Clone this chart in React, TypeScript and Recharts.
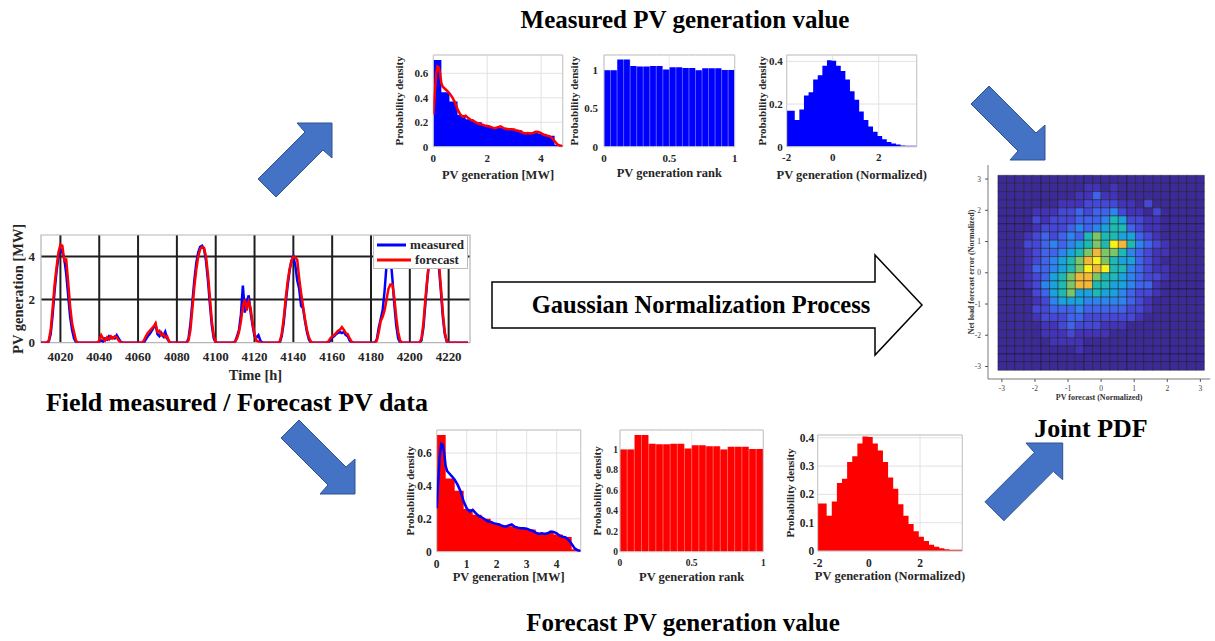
import React from "react";
import {
  ComposedChart,
  LineChart,
  ScatterChart,
  Line,
  Area,
  Scatter,
  XAxis,
  YAxis,
  CartesianGrid,
  ReferenceArea,
  ReferenceLine,
  Legend,
  Label,
} from "recharts";

const FONT = '"Liberation Serif", "Times New Roman", serif';
const INK = "#262626";

// ---- field data: hourly PV generation [MW], starting at 4010 h ----
const startHour = 4010;
const timeTicks = [4020, 4040, 4060, 4080, 4100, 4120, 4140, 4160, 4180, 4200, 4220];
const seriesOrder = ["measured", "forecast"];
const measuredMW = [
  0, 0, 0, 0, 0.05, 0.4, 1.3, 2.4, 3.3, 4.0, // 4010
  4.35, 4.2, 3.9, 3.2, 2.2, 1.2, 0.6, 0.2, 0.02, 0, // 4020
  0, 0, 0, 0, 0, 0, 0, 0, 0, 0, // 4030
  0.05, 0.1, 0.05, 0.2, 0.15, 0.3, 0.2, 0.25, 0.2, 0.35, // 4040
  0.2, 0.05, 0, 0, 0, 0, 0, 0, 0, 0, // 4050
  0, 0, 0, 0, 0.15, 0.3, 0.4, 0.55, 0.7, 0.85, // 4060
  0.4, 0.3, 0.45, 0.3, 0.5, 0.2, 0.05, 0, 0, 0, // 4070
  0, 0, 0, 0, 0, 0, 0.2, 0.9, 1.9, 2.9, // 4080
  3.7, 4.2, 4.45, 4.5, 4.35, 3.8, 2.9, 1.8, 0.8, 0.2, // 4090
  0, 0, 0, 0, 0, 0, 0, 0, 0, 0, // 4100
  0.05, 0.3, 0.6, 1.3, 2.65, 1.4, 1.9, 2.2, 1.4, 0.8, // 4110
  0.3, 0.25, 0.35, 0.1, 0, 0, 0, 0, 0, 0, // 4120
  0, 0, 0, 0, 0.3, 0.9, 1.8, 2.6, 3.3, 3.8, // 4130
  4.0, 3.6, 2.9, 2.5, 1.7, 1.6, 1.0, 0.5, 0.15, 0, // 4140
  0, 0, 0, 0, 0, 0, 0, 0, 0, 0.1, // 4150
  0.25, 0.3, 0.4, 0.45, 0.5, 0.45, 0.5, 0.35, 0.3, 0.1, // 4160
  0, 0, 0, 0, 0, 0, 0, 0, 0, 0, // 4170
  0, 0, 0, 0.15, 0.7, 1.1, 1.5, 2.4, 3.6, 4.3, // 4180
  4.0, 3.0, 1.8, 0.8, 0.2, 0, 0, 0, 0, 0, // 4190
  0, 0, 0, 0, 0, 0, 0.1, 0.7, 1.8, 2.9, // 4200
  3.8, 4.3, 4.6, 4.6, 4.2, 3.5, 2.4, 1.2, 0.4, 0.05, // 4210
  0, 0, 0, 0, 0, 0, 0, 0, 0, 0, // 4220
  0,
];
const forecastMW = [
  0, 0, 0, 0, 0.1, 0.6, 1.6, 2.7, 3.5, 4.2, // 4010
  4.55, 4.5, 3.8, 3.85, 2.8, 1.7, 0.9, 0.5, 0.1, 0, // 4020
  0, 0, 0, 0, 0, 0, 0, 0, 0, 0, // 4030
  0.1, 0.35, 0.2, 0.1, 0.25, 0.15, 0.3, 0.2, 0.3, 0.25, // 4040
  0.1, 0.02, 0, 0, 0, 0, 0, 0, 0, 0, // 4050
  0, 0, 0, 0.1, 0.3, 0.45, 0.55, 0.65, 0.75, 0.9, // 4060
  0.5, 0.55, 0.35, 0.4, 0.25, 0.3, 0.05, 0, 0, 0, // 4070
  0, 0, 0, 0, 0, 0, 0.1, 0.6, 1.6, 2.6, // 4080
  3.4, 4.0, 4.35, 4.45, 4.4, 4.0, 3.2, 2.1, 1.0, 0.3, // 4090
  0.03, 0, 0, 0, 0, 0, 0, 0, 0, 0, // 4100
  0.05, 0.2, 0.5, 1.0, 1.7, 2.0, 1.5, 1.9, 1.6, 0.9, // 4110
  0.4, 0.1, 0.05, 0, 0, 0, 0, 0, 0, 0, // 4120
  0, 0, 0, 0.05, 0.4, 1.1, 2.0, 2.8, 3.4, 3.8, // 4130
  4.0, 3.95, 3.85, 3.0, 2.3, 1.7, 1.1, 0.6, 0.25, 0.05, // 4140
  0, 0, 0, 0, 0, 0, 0, 0, 0.05, 0.2, // 4150
  0.3, 0.35, 0.45, 0.55, 0.6, 0.72, 0.6, 0.45, 0.4, 0.2, // 4160
  0.05, 0, 0, 0, 0, 0, 0, 0, 0, 0, // 4170
  0, 0, 0, 0.1, 0.5, 1.0, 1.2, 1.5, 2.0, 2.5, // 4180
  2.7, 2.7, 2.1, 1.2, 0.5, 0.1, 0, 0, 0, 0, // 4190
  0, 0, 0, 0, 0, 0, 0.2, 0.9, 2.0, 3.0, // 4200
  3.8, 4.4, 4.7, 4.6, 4.3, 3.7, 2.6, 1.4, 0.5, 0.1, // 4210
  0, 0, 0, 0, 0, 0, 0, 0, 0, 0, // 4220
  0,
];

// ---- pdf of PV generation [MW] ----
const pvBinEdges = [0, 0.3, 0.6, 0.9, 1.2, 1.5, 1.8, 2.1, 2.4, 2.7, 3.0, 3.3, 3.6, 3.9, 4.2, 4.5, 4.8];
const measuredPvPdf = [0.71, 0.445, 0.37, 0.26, 0.225, 0.2, 0.175, 0.16, 0.155, 0.14, 0.135, 0.115, 0.115, 0.105, 0.09, 0.015];
const forecastPvPdf = [0.71, 0.445, 0.37, 0.26, 0.225, 0.2, 0.175, 0.16, 0.155, 0.14, 0.135, 0.115, 0.115, 0.105, 0.09, 0.015];
const kdeMW = [
  0, 0.05, 0.1, 0.15, 0.2, 0.25, 0.3, 0.35, 0.4, 0.5, 0.6, 0.7, 0.8, 0.9, 1.0, 1.1, 1.2, 1.3, 1.4, 1.5,
  1.6, 1.7, 1.8, 1.9, 2.0, 2.1, 2.2, 2.3, 2.4, 2.5, 2.6, 2.7, 2.8, 2.9, 3.0, 3.1, 3.2, 3.3, 3.4, 3.5,
  3.6, 3.7, 3.8, 3.9, 4.0, 4.1, 4.2, 4.3, 4.4, 4.5, 4.6, 4.7, 4.8,
];
const forecastKde = [
  0.264, 0.42, 0.58, 0.656, 0.65, 0.6, 0.52, 0.49, 0.48, 0.46, 0.437, 0.406, 0.365, 0.305, 0.264, 0.244, 0.254, 0.234, 0.217, 0.209,
  0.197, 0.185, 0.181, 0.173, 0.169, 0.164, 0.156, 0.152, 0.16, 0.166, 0.152, 0.146, 0.142, 0.142, 0.14, 0.132, 0.126, 0.116, 0.108, 0.112,
  0.108, 0.112, 0.122, 0.12, 0.112, 0.097, 0.091, 0.087, 0.071, 0.047, 0.02, 0.008, 0.002,
];
const measuredKde = [
  0.264, 0.42, 0.58, 0.656, 0.65, 0.6, 0.52, 0.49, 0.48, 0.46, 0.437, 0.406, 0.365, 0.305, 0.264, 0.244, 0.254, 0.234, 0.217, 0.209,
  0.197, 0.185, 0.181, 0.173, 0.169, 0.164, 0.156, 0.152, 0.16, 0.166, 0.152, 0.146, 0.142, 0.142, 0.14, 0.132, 0.126, 0.116, 0.108, 0.112,
  0.108, 0.112, 0.122, 0.12, 0.112, 0.097, 0.091, 0.087, 0.071, 0.047, 0.02, 0.008, 0.002,
];

// ---- pdf of PV generation rank ----
const rankBinEdges = [0, 0.05, 0.1, 0.15, 0.2, 0.25, 0.3, 0.35, 0.4, 0.45, 0.5, 0.55, 0.6, 0.65, 0.7, 0.75, 0.8, 0.85, 0.9, 0.95, 1];
const measuredRankPdf = [1.0, 1.0, 1.14, 1.14, 1.055, 1.05, 1.05, 1.055, 1.055, 1.01, 1.04, 1.04, 1.03, 1.03, 1.0, 1.025, 1.025, 1.025, 1.005, 1.005];
const forecastRankPdf = [1.0, 1.0, 1.14, 1.14, 1.055, 1.05, 1.05, 1.055, 1.055, 1.01, 1.04, 1.04, 1.03, 1.03, 1.0, 1.025, 1.025, 1.025, 1.005, 1.005];

// ---- pdf of normalized PV generation ----
const normBinEdges = [
  -2, -1.65, -1.45, -1.25, -1.05, -0.85, -0.65, -0.45, -0.25, -0.05, 0.15, 0.35, 0.55, 0.75, 0.95,
  1.15, 1.35, 1.55, 1.75, 1.95, 2.15, 2.35, 2.55, 2.75, 2.95, 3.15, 3.35, 3.55, 3.65,
];
const measuredNormPdf = [
  0.168, 0.125, 0.175, 0.24, 0.255, 0.315, 0.335, 0.38, 0.405, 0.403, 0.38, 0.355, 0.315, 0.26,
  0.22, 0.165, 0.125, 0.095, 0.07, 0.05, 0.035, 0.022, 0.015, 0.01, 0.006, 0.004, 0.004, 0.004,
];
const forecastNormPdf = [
  0.168, 0.125, 0.175, 0.24, 0.255, 0.315, 0.335, 0.38, 0.405, 0.403, 0.38, 0.355, 0.315, 0.26,
  0.22, 0.165, 0.125, 0.095, 0.07, 0.05, 0.035, 0.022, 0.015, 0.01, 0.006, 0.004, 0.004, 0.004,
];

// ---- joint pdf (colour level 0..9), rows from y = +3 down to y = -3 ----
const jointEdges = [
  -3.12, -2.86, -2.6, -2.34, -2.08, -1.82, -1.56, -1.3, -1.04, -0.78, -0.52, -0.26, 0,
  0.26, 0.52, 0.78, 1.04, 1.3, 1.56, 1.82, 2.08, 2.34, 2.6, 2.86, 3.12,
];
const jointLevel = [
  [0, 0, 0, 0, 0, 0, 0, 0, 0, 0, 0, 0, 0, 0, 0, 0, 0, 0, 0, 0, 0, 0, 0, 0],
  [0, 0, 0, 0, 0, 0, 0, 0, 0, 0, 1, 1, 0, 1, 0, 0, 0, 0, 0, 0, 0, 0, 0, 0],
  [0, 0, 0, 0, 0, 0, 0, 0, 0, 1, 1, 3, 1, 1, 0, 0, 0, 0, 0, 0, 0, 0, 0, 0],
  [0, 0, 0, 0, 0, 0, 0, 1, 1, 1, 2, 2, 2, 2, 1, 1, 0, 2, 0, 0, 0, 0, 0, 0],
  [0, 0, 0, 0, 1, 1, 1, 2, 2, 3, 2, 3, 3, 4, 2, 1, 1, 0, 2, 0, 0, 0, 0, 0],
  [0, 0, 0, 0, 2, 1, 2, 2, 2, 3, 3, 3, 4, 6, 5, 2, 2, 1, 1, 0, 0, 0, 0, 0],
  [0, 0, 0, 0, 1, 2, 2, 2, 3, 4, 3, 4, 5, 6, 6, 3, 2, 1, 1, 0, 0, 0, 0, 0],
  [0, 0, 0, 1, 2, 3, 2, 3, 4, 3, 6, 7, 6, 6, 5, 5, 3, 2, 1, 0, 0, 0, 0, 0],
  [0, 0, 0, 2, 2, 3, 4, 3, 4, 5, 6, 7, 6, 9, 8, 6, 4, 3, 2, 1, 0, 0, 0, 0],
  [0, 0, 0, 1, 2, 3, 3, 4, 5, 6, 7, 8, 7, 7, 6, 4, 3, 2, 1, 1, 0, 0, 0, 0],
  [0, 0, 0, 1, 2, 3, 4, 5, 6, 7, 8, 9, 7, 6, 5, 5, 3, 2, 1, 0, 0, 0, 0, 0],
  [0, 0, 0, 1, 3, 3, 4, 5, 6, 7, 9, 8, 9, 6, 6, 4, 3, 2, 1, 1, 0, 0, 0, 0],
  [0, 0, 0, 1, 2, 3, 5, 6, 7, 8, 8, 7, 6, 6, 5, 4, 3, 2, 2, 1, 0, 0, 0, 0],
  [0, 0, 0, 1, 2, 4, 5, 6, 7, 8, 8, 6, 6, 5, 5, 4, 3, 3, 1, 0, 0, 0, 0, 0],
  [0, 0, 0, 0, 2, 3, 5, 6, 7, 5, 5, 6, 5, 5, 4, 3, 2, 2, 1, 0, 0, 0, 0, 0],
  [0, 0, 0, 0, 1, 2, 4, 5, 5, 5, 4, 4, 4, 4, 4, 3, 2, 1, 0, 0, 0, 0, 0, 0],
  [0, 0, 0, 0, 2, 2, 3, 3, 3, 4, 3, 3, 3, 3, 3, 2, 2, 1, 0, 0, 0, 0, 0, 0],
  [0, 0, 0, 0, 1, 2, 2, 2, 3, 3, 2, 2, 2, 2, 2, 2, 1, 0, 0, 0, 0, 0, 0, 0],
  [0, 0, 0, 0, 0, 1, 1, 2, 3, 2, 2, 2, 1, 1, 1, 0, 0, 0, 0, 0, 0, 0, 0, 0],
  [0, 0, 0, 0, 0, 1, 1, 1, 2, 1, 1, 1, 1, 0, 0, 0, 0, 0, 0, 0, 0, 0, 0, 0],
  [0, 0, 0, 0, 0, 0, 1, 1, 1, 1, 0, 0, 0, 0, 0, 0, 0, 0, 0, 0, 0, 0, 0, 0],
  [0, 0, 0, 0, 0, 0, 0, 0, 0, 1, 0, 0, 0, 0, 0, 0, 0, 0, 0, 0, 0, 0, 0, 0],
  [0, 0, 0, 0, 0, 0, 0, 0, 0, 0, 0, 0, 0, 0, 0, 0, 0, 0, 0, 0, 0, 0, 0, 0],
  [0, 0, 0, 0, 0, 0, 0, 0, 0, 0, 0, 0, 0, 0, 0, 0, 0, 0, 0, 0, 0, 0, 0, 0],
];
const parula = ["#3b2a98", "#4233b8", "#4547d6", "#3f63ec", "#2f83ef", "#1aa2dc", "#1fb8b4", "#7cc66a", "#f2b83c", "#f8f11c"];

type Plot = { x0: number; y0: number; x1: number; y1: number };

// spare room around each plot so rotated / long labels are not clipped
const PAD = { top: 24, right: 24, bottom: 6, left: 10 };

const tickStyle = (fs: number) => ({ fontSize: fs, fontWeight: 700, fill: INK, fontFamily: FONT });

function TsLegend({ payload }: any) {
  const items = [...(payload || [])].sort((a: any, b: any) => seriesOrder.indexOf(a.value) - seriesOrder.indexOf(b.value));
  return (
    <div style={{ background: "#fff", border: "1px solid #bdbdbd", padding: "1px 3px", fontFamily: FONT, fontWeight: 700, fontSize: 13, color: INK }}>
      {items.map((p: any) => (
        <div key={p.value} style={{ display: "flex", alignItems: "center", height: 15 }}>
          <svg width={34} height={6}>
            <line x1={0} y1={3} x2={34} y2={3} stroke={p.color} strokeWidth={3} />
          </svg>
          <span style={{ marginLeft: 4 }}>{p.value}</span>
        </div>
      ))}
    </div>
  );
}

function TimeSeries() {
  const plot: Plot = { x0: 41, y0: 235, x1: 470, y1: 342.7 };
  const yLabelX = 18;
  const base = 375 + 0.33 * 14.5;
  const left = yLabelX - PAD.left;
  const top = plot.y0 - PAD.top;
  const data = measuredMW.map((m, i) => ({ h: startHour + i, measured: m, forecast: forecastMW[i] }));
  return (
    <div style={{ position: "absolute", left, top }}>
      <LineChart width={plot.x1 + 6 - left} height={base + PAD.bottom - top} data={data}
        margin={{ top: PAD.top, right: 6, bottom: PAD.bottom, left: PAD.left }}>
        <CartesianGrid stroke="#1f1f1f" strokeWidth={2} verticalValues={timeTicks} horizontalValues={[2, 4]} />
        <ReferenceArea x1={4010} x2={4231} y1={0} y2={5} fill="none" stroke="#b5b5b5" strokeWidth={1.2} />
        <XAxis type="number" dataKey="h" domain={[4010, 4231]} ticks={timeTicks} interval={0} allowDataOverflow
          tickLine={false} axisLine={false} tickSize={0} tickMargin={9} height={base - plot.y1} tick={tickStyle(13)}>
          <Label value="Time [h]" position="insideBottom" offset={0} style={{ fontFamily: FONT, fontWeight: 700, fontSize: 14.5, fill: INK }} />
        </XAxis>
        <YAxis type="number" domain={[0, 5]} ticks={[0, 2, 4]} allowDataOverflow tickLine={false} axisLine={false}
          tickSize={0} tickMargin={6} width={plot.x0 - yLabelX} tick={tickStyle(13)}>
          <Label value="PV generation [MW]" angle={-90} position="insideLeft" offset={0}
            style={{ textAnchor: "middle", fontFamily: FONT, fontWeight: 700, fontSize: 14.5, fill: INK }} />
        </YAxis>
        <Line name="measured" dataKey="measured" stroke="#0000ff" strokeWidth={2.5} dot={false} activeDot={false} isAnimationActive={false} />
        <Line name="forecast" dataKey="forecast" stroke="#ff0000" strokeWidth={2.5} dot={false} activeDot={false} isAnimationActive={false} />
        <Legend layout="vertical" align="center" verticalAlign="middle" content={<TsLegend />}
          wrapperStyle={{ left: 373 - left, top: 235 - top, width: 95, height: 32 }} />
      </LineChart>
    </div>
  );
}

type PanelProps = {
  plot: Plot;
  yLabelX: number;
  xLabelY: number;
  xDomain: [number, number];
  yDomain: [number, number];
  xTicks: number[];
  yTicks: number[];
  edges: number[];
  heights: number[];
  fill: string;
  curveX?: number[];
  curveY?: number[];
  curveColor?: string;
  separators?: boolean;
  xLabel: string;
  tickFs: number;
  xTickGap: number;
  yTickGap: number;
};

function HistPanel(p: PanelProps) {
  const labelFs = 12.5;
  const base = p.xLabelY + 0.33 * labelFs;
  const left = p.yLabelX - PAD.left;
  const top = p.plot.y0 - PAD.top;
  const steps = p.edges.map((e, i) => ({ x: e, y: p.heights[Math.min(i, p.heights.length - 1)] }));
  const curve = p.curveX ? p.curveX.map((x, i) => ({ x, y: p.curveY![i] })) : null;
  return (
    <div style={{ position: "absolute", left, top }}>
      <ComposedChart width={p.plot.x1 + PAD.right - left} height={base + PAD.bottom - top} margin={PAD}>
        <CartesianGrid stroke="#e2e2e2" strokeWidth={1} />
        <XAxis type="number" dataKey="x" domain={p.xDomain} ticks={p.xTicks} interval={0} allowDataOverflow
          tickLine={false} axisLine={false} tickSize={0} tickMargin={p.xTickGap} height={base - p.plot.y1} tick={tickStyle(p.tickFs)}>
          <Label value={p.xLabel} position="insideBottom" offset={0} style={{ fontFamily: FONT, fontWeight: 700, fontSize: labelFs, fill: INK }} />
        </XAxis>
        <YAxis type="number" domain={p.yDomain} ticks={p.yTicks} interval={0} allowDataOverflow tickLine={false} axisLine={false}
          tickSize={0} tickMargin={p.yTickGap} width={p.plot.x0 - p.yLabelX} tick={tickStyle(p.tickFs)}>
          <Label value="Probability density" angle={-90} position="insideLeft" offset={0}
            style={{ textAnchor: "middle", fontFamily: FONT, fontWeight: 700, fontSize: 11, fill: INK }} />
        </YAxis>
        <Area data={steps} dataKey="y" type="stepAfter" fill={p.fill} fillOpacity={1} stroke="none"
          dot={false} activeDot={false} isAnimationActive={false} />
        {p.separators &&
          p.edges.slice(1, -1).map((e) => (
            <ReferenceLine key={e} x={e} stroke="#ffffff" strokeOpacity={0.45} strokeWidth={0.8} />
          ))}
        {curve && (
          <Line data={curve} dataKey="y" type="linear" stroke={p.curveColor} strokeWidth={2.5}
            dot={false} activeDot={false} isAnimationActive={false} />
        )}
        <ReferenceArea x1={p.xDomain[0]} x2={p.xDomain[1]} y1={p.yDomain[0]} y2={p.yDomain[1]} fill="none" stroke="#c6c6c6" strokeWidth={1} />
      </ComposedChart>
    </div>
  );
}

const EmptyShape = () => <g />;

function JointPdf() {
  const plot: Plot = { x0: 987.7, y0: 165, x1: 1210, y1: 379 };
  const yLabelX = 970.7;
  const base = 397.3 + 0.33 * 8;
  const left = yLabelX - 10;
  const top = plot.y0 - 6;
  const centers = jointLevel.flatMap((row, j) =>
    row.map((_, i) => ({ x: (jointEdges[i] + jointEdges[i + 1]) / 2, y: (jointEdges[23 - j] + jointEdges[24 - j]) / 2 }))
  );
  const axisTick = { fontSize: 7.5, fill: "#444", fontFamily: FONT };
  const ticks = [-3, -2, -1, 0, 1, 2, 3];
  return (
    <div style={{ position: "absolute", left, top }}>
      <ScatterChart width={plot.x1 + 4 - left} height={base + 6 - top} margin={{ top: 6, right: 4, bottom: 6, left: 10 }}>
        <XAxis type="number" dataKey="x" domain={[-3.42, 3.3]} ticks={ticks} interval={0} allowDataOverflow
          tickLine={{ stroke: "#555" }} axisLine={{ stroke: "#555", strokeWidth: 0.8 }} tickSize={3} tickMargin={3.5}
          height={base - plot.y1} tick={axisTick}>
          <Label value="PV forecast (Normalized)" position="insideBottom" offset={0}
            style={{ fontFamily: FONT, fontWeight: 700, fontSize: 8, fill: "#333" }} />
        </XAxis>
        <YAxis type="number" dataKey="y" domain={[-3.4, 3.45]} ticks={ticks} interval={0} allowDataOverflow
          tickLine={{ stroke: "#555" }} axisLine={{ stroke: "#555", strokeWidth: 0.8 }} tickSize={3} tickMargin={4}
          width={plot.x0 - yLabelX} tick={axisTick}>
          <Label value="Net load forecast error (Normalized)" angle={-90} position="insideLeft" offset={0}
            style={{ textAnchor: "middle", fontFamily: FONT, fontWeight: 700, fontSize: 8, fill: "#333" }} />
        </YAxis>
        {jointLevel.map((row, j) =>
          row.map((lv, i) => (
            <ReferenceArea key={`${i}-${j}`} x1={jointEdges[i]} x2={jointEdges[i + 1]} y1={jointEdges[23 - j]} y2={jointEdges[24 - j]}
              fill={parula[lv]} fillOpacity={1} stroke="#111" strokeOpacity={0.75} strokeWidth={0.6} />
          ))
        )}
        <Scatter data={centers} shape={EmptyShape} isAnimationActive={false} />
      </ScatterChart>
    </div>
  );
}

// block arrow pointing up-right inside a 74 x 74 box
const arrowShape = [[0, 56], [47, 9], [39, 0], [74, 0], [74, 35], [65, 27], [18, 74]];

function BlueArrow({ x, y, s, down }: { x: number; y: number; s: number; down?: boolean }) {
  const pts = arrowShape.map(([ax, ay]) => `${x + ax * s},${y + (down ? 74 - ay : ay) * s}`).join(" ");
  return <polygon points={pts} fill="#4472c4" stroke="#2f528f" strokeWidth={1} />;
}

function Overlay() {
  const title = { fontFamily: FONT, fontWeight: 700, fill: "#000" } as const;
  return (
    <svg width={1215} height={641} style={{ position: "absolute", left: 0, top: 0 }}>
      <BlueArrow x={258} y={123} s={1} />
      <BlueArrow x={971} y={86} s={1} down />
      <BlueArrow x={281} y={420} s={1} down />
      <BlueArrow x={985} y={443} s={1.05} />
      <polygon points="492,282 875,282 875,255 922,305 875,355 875,328 492,328" fill="#fff" stroke="#000" strokeWidth={1.5} />
      <text x={701} y={313} textAnchor="middle" fontSize={24.5} style={title}>Gaussian Normalization Process</text>
      <text x={685} y={28} textAnchor="middle" fontSize={25} style={title}>Measured PV generation value</text>
      <text x={683} y={631} textAnchor="middle" fontSize={25} style={title}>Forecast PV generation value</text>
      <text x={237} y={411} textAnchor="middle" fontSize={26} style={title}>Field measured / Forecast PV data</text>
      <text x={1091} y={437} textAnchor="middle" fontSize={26} style={title}>Joint PDF</text>
    </svg>
  );
}

export default function App() {
  return (
    <div style={{ position: "absolute", left: 0, top: 0, width: 1215, height: 641, background: "#fff", overflow: "hidden" }}>
      <Overlay />
      <TimeSeries />
      <HistPanel plot={{ x0: 433.3, y0: 55, x1: 562.7, y1: 146.7 }} yLabelX={399} xLabelY={175}
        xDomain={[0, 4.8]} yDomain={[0, 0.75]} xTicks={[0, 2, 4]} yTicks={[0, 0.2, 0.4, 0.6]}
        edges={pvBinEdges} heights={measuredPvPdf} fill="#0000ff" curveX={kdeMW} curveY={forecastKde} curveColor="#ff0000"
        xLabel="PV generation [MW]" tickFs={11} xTickGap={7.5} yTickGap={5} />
      <HistPanel plot={{ x0: 604.3, y0: 55, x1: 735, y1: 146.7 }} yLabelX={574.3} xLabelY={173.3}
        xDomain={[0, 1]} yDomain={[0, 1.2]} xTicks={[0, 0.5, 1]} yTicks={[0, 0.5, 1]}
        edges={rankBinEdges} heights={measuredRankPdf} fill="#0000ff" separators
        xLabel="PV generation rank" tickFs={11} xTickGap={7.5} yTickGap={6} />
      <HistPanel plot={{ x0: 786.7, y0: 55, x1: 916.7, y1: 146.7 }} yLabelX={762} xLabelY={175}
        xDomain={[-2, 3.65]} yDomain={[0, 0.43]} xTicks={[-2, 0, 2]} yTicks={[0, 0.2, 0.4]}
        edges={normBinEdges} heights={measuredNormPdf} fill="#0000ff"
        xLabel="PV generation (Normalized)" tickFs={11} xTickGap={6.5} yTickGap={4} />
      <HistPanel plot={{ x0: 436.7, y0: 430, x1: 580.7, y1: 551.7 }} yLabelX={410} xLabelY={576.7}
        xDomain={[0, 4.8]} yDomain={[0, 0.74]} xTicks={[0, 1, 2, 3, 4]} yTicks={[0, 0.2, 0.4, 0.6]}
        edges={pvBinEdges} heights={forecastPvPdf} fill="#ff0000" curveX={kdeMW} curveY={measuredKde} curveColor="#0000ff"
        xLabel="PV generation [MW]" tickFs={11.5} xTickGap={8} yTickGap={5} />
      <HistPanel plot={{ x0: 620, y0: 430, x1: 763.3, y1: 551.7 }} yLabelX={597} xLabelY={576.7}
        xDomain={[0, 1]} yDomain={[0, 1.19]} xTicks={[0, 0.5, 1]} yTicks={[0, 0.2, 0.4, 0.6, 0.8, 1]}
        edges={rankBinEdges} heights={forecastRankPdf} fill="#ff0000" separators
        xLabel="PV generation rank" tickFs={9.5} xTickGap={8} yTickGap={2} />
      <HistPanel plot={{ x0: 817.7, y0: 435, x1: 962.3, y1: 551 }} yLabelX={790} xLabelY={576}
        xDomain={[-2, 3.65]} yDomain={[0, 0.41]} xTicks={[-2, 0, 2]} yTicks={[0, 0.1, 0.2, 0.3, 0.4]}
        edges={normBinEdges} heights={forecastNormPdf} fill="#ff0000"
        xLabel="PV generation (Normalized)" tickFs={11.5} xTickGap={8} yTickGap={3.5} />
      <JointPdf />
    </div>
  );
}
